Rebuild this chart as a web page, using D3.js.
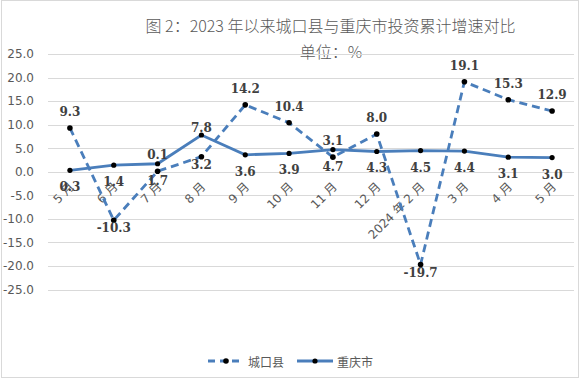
<!DOCTYPE html>
<html><head><meta charset="utf-8">
<script src="https://cdn.jsdelivr.net/npm/d3@7"></script>
<style>
html,body{margin:0;padding:0;background:#fff;}
svg{display:block;}
</style></head>
<body>
<svg id="chart" width="583" height="381"></svg>
<script>
// ---- data ----
const categories = ["5 月","6 月","7 月","8 月","9 月","10 月","11 月","12 月","2024 年 2 月","3 月","4 月","5 月"];
const chengkou = [9.3, -10.3, 0.1, 3.2, 14.2, 10.4, 3.1, 8.0, -19.7, 19.1, 15.3, 12.9];
const chongqing = [0.3, 1.4, 1.7, 7.8, 3.6, 3.9, 4.7, 4.3, 4.5, 4.4, 3.1, 3.0];
const chengkouLabelPos = ["above","below","above","below","above","above","above","above","below","above","above","above"];
const chongqingLabelPos = ["below","below","below","above","below","below","below","below","below","below","below","below"];
const yTicks = [-25, -20, -15, -10, -5, 0, 5, 10, 15, 20, 25];
const seriesNames = ["城口县", "重庆市"];
const titleText = "图 2：2023 年以来城口县与重庆市投资累计增速对比";
const subtitleText = "单位：%";

// ---- layout ----
const svg = d3.select("#chart");
const color = "#4A7EBB";
const gridColor = "#d9d9d9";
const textColor = "#595959";
const cjk = "'Noto Sans CJK SC', 'DejaVu Sans', sans-serif";
const fmt = d3.formatLocale({decimal: ".", thousands: ",", grouping: [3], currency: ["", ""], minus: "-"}).format(".1f");

svg.append("rect").attr("x",1.5).attr("y",0.5).attr("width",577).attr("height",377)
  .attr("fill","#fff").attr("stroke",gridColor).attr("stroke-width",1);

const x = d3.scaleBand().domain(d3.range(categories.length)).range([48, 574]);
const y = d3.scaleLinear().domain([-25, 25]).range([289.5, 54]);
const cx = i => x(i) + x.bandwidth()/2;

// title
svg.append("text").attr("x",330.5).attr("y",25).attr("text-anchor","middle")
  .attr("dominant-baseline","central")
  .style("font-family",cjk).style("font-size","16px").style("font-weight","300")
  .attr("fill",textColor).text(titleText);
svg.append("text").attr("x",331).attr("y",51).attr("text-anchor","middle")
  .attr("dominant-baseline","central")
  .style("font-family",cjk).style("font-size","16px").style("font-weight","300")
  .attr("fill",textColor).text(subtitleText);

// gridlines
const yAxis = d3.axisLeft(y).tickValues(yTicks).tickSize(-(574-48)).tickFormat(fmt);
const gy = svg.append("g").attr("transform","translate(48,0)").call(yAxis);
gy.select(".domain").remove();
gy.selectAll(".tick line").attr("stroke",gridColor).attr("stroke-width",1)
  .attr("shape-rendering","crispEdges");
gy.selectAll(".tick text").attr("x",-14).attr("fill",textColor)
  .style("font-family","'DejaVu Sans', sans-serif").style("font-size","12px");

// x axis labels (rotated)
const xAxis = d3.axisBottom(x).tickSize(0).tickFormat(i => categories[i]);
const gx = svg.append("g").attr("transform",`translate(0,${y(0)})`).call(xAxis);
gx.select(".domain").remove();
gx.selectAll(".tick text")
  .attr("fill",textColor)
  .style("font-family","'DejaVu Sans', 'Noto Sans CJK SC', sans-serif").style("font-size","12px")
  .attr("text-anchor","end")
  .attr("dy",null).attr("y",null)
  .attr("dominant-baseline","central")
  .attr("transform","translate(2,13) rotate(-45)");

// lines
const lineGen = d3.line().x((d,i)=>cx(i)).y(d=>y(d));
svg.append("path").datum(chengkou).attr("d",lineGen).attr("fill","none")
  .attr("stroke",color).attr("stroke-width",2.8).attr("stroke-dasharray","8,5");
svg.append("g").selectAll("circle").data(chengkou).join("circle")
  .attr("cx",(d,i)=>cx(i)).attr("cy",d=>y(d)).attr("r",2.8).attr("fill","#000");

svg.append("path").datum(chongqing).attr("d",lineGen).attr("fill","none")
  .attr("stroke",color).attr("stroke-width",2.8);
svg.append("g").selectAll("circle").data(chongqing).join("circle")
  .attr("cx",(d,i)=>cx(i)).attr("cy",d=>y(d)).attr("r",2.6).attr("fill","#000");

// data labels
function labels(data, pos, upOff, downOff){
  svg.append("g").selectAll("text").data(data).join("text")
    .attr("x",(d,i)=>cx(i))
    .attr("y",(d,i)=>y(d) + (pos[i]==="above" ? -upOff : downOff))
    .attr("text-anchor","middle").attr("dominant-baseline","central")
    .style("font-family","'DejaVu Serif', serif").style("font-weight","bold").style("font-size","12px")
    .attr("fill","#404040")
    .text(d=>fmt(d));
}
labels(chengkou, chengkouLabelPos, 16, 8);
labels(chongqing, chongqingLabelPos, 7, 17);

// legend
const lg = svg.append("g");
const ly = 361;
lg.append("line").attr("x1",208).attr("x2",243).attr("y1",ly).attr("y2",ly)
  .attr("stroke",color).attr("stroke-width",2.8).attr("stroke-dasharray","7,5");
lg.append("circle").attr("cx",226).attr("cy",ly).attr("r",2.8).attr("fill","#000");
lg.append("text").attr("x",248).attr("y",ly).attr("dominant-baseline","central")
  .style("font-family",cjk).style("font-size","12px").attr("fill",textColor).text(seriesNames[0]);
lg.append("line").attr("x1",297).attr("x2",333).attr("y1",ly).attr("y2",ly)
  .attr("stroke",color).attr("stroke-width",2.8);
lg.append("circle").attr("cx",315).attr("cy",ly).attr("r",2.6).attr("fill","#000");
lg.append("text").attr("x",337).attr("y",ly).attr("dominant-baseline","central")
  .style("font-family",cjk).style("font-size","12px").attr("fill",textColor).text(seriesNames[1]);
</script>
</body></html>
